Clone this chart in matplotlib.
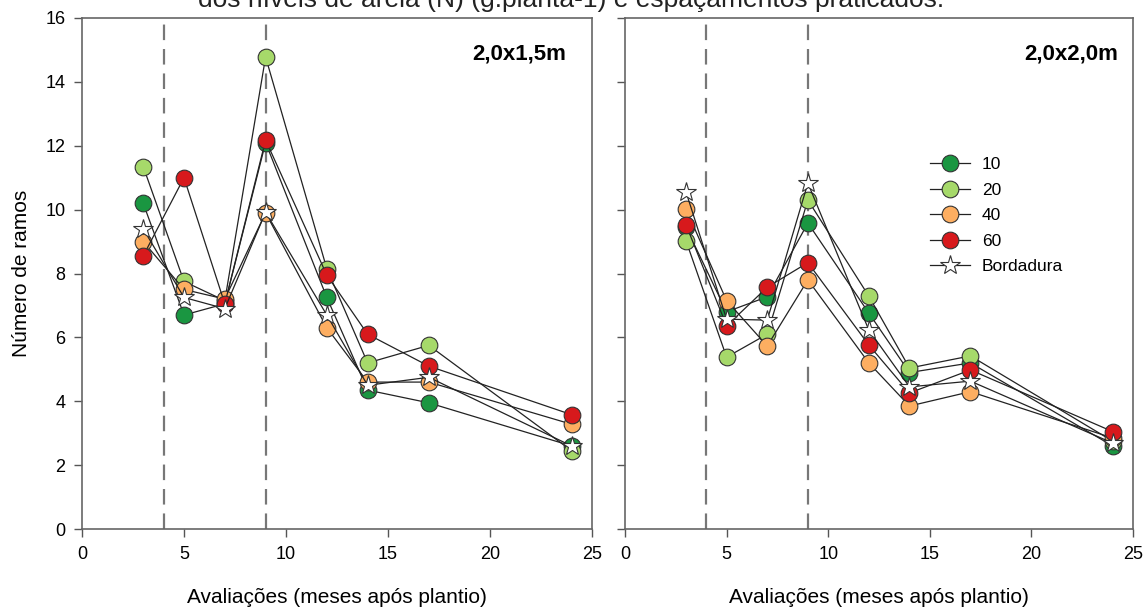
import numpy as np
import matplotlib
matplotlib.use('Agg')
from matplotlib import pyplot as plt

plt.rcParams['font.family'] = ['Liberation Sans', 'DejaVu Sans']

#~~ data
meses = [3, 5, 7, 9, 12, 14, 17, 24]
niveis = ['10', '20', '40', '60', 'Bordadura']

# espacamento 2,0x1,5m
esp15_10 = [10.2, 6.7, 7.05, 12.1, 7.25, 4.35, 3.95, 2.6]
esp15_20 = [11.35, 7.75, 7.15, 14.78, 8.15, 5.2, 5.75, 2.45]
esp15_40 = [9.0, 7.5, 7.2, 9.9, 6.3, 4.6, 4.6, 3.28]
esp15_60 = [8.55, 11.0, 7.05, 12.18, 7.95, 6.1, 5.1, 3.58]
esp15_bord = [9.4, 7.25, 6.9, 9.92, 6.7, 4.5, 4.75, 2.6]

# espacamento 2,0x2,0m
esp20_10 = [9.45, 6.8, 7.27, 9.58, 6.76, 4.9, 5.2, 2.6]
esp20_20 = [9.03, 5.38, 6.1, 10.3, 7.29, 5.04, 5.42, 2.75]
esp20_40 = [10.02, 7.15, 5.73, 7.8, 5.2, 3.85, 4.3, 2.85]
esp20_60 = [9.53, 6.36, 7.57, 8.34, 5.76, 4.26, 4.98, 3.05]
esp20_bord = [10.56, 6.57, 6.54, 10.83, 6.23, 4.45, 4.63, 2.69]

cores = ['#1a9641', '#a6d96a', '#fdae61', '#d7191c', 'white']
marcadores = ['o', 'o', 'o', 'o', '*']

paineis = [('2,0x1,5m', 566, [esp15_10, esp15_20, esp15_40, esp15_60, esp15_bord]),
           ('2,0x2,0m', 1118, [esp20_10, esp20_20, esp20_40, esp20_60, esp20_bord])]

fig = plt.figure(figsize=(11.47, 6.08), dpi=100)
W, H = 1147.0, 608.0
ax1 = fig.add_axes([82 / W, 1 - 529 / H, 510 / W, 511 / H])
ax2 = fig.add_axes([625 / W, 1 - 529 / H, 508 / W, 511 / H])

#~~ caption of the figure, cut off at the top like in the original
fig.text(571 / W, 1 - 7 / H, 'dos níveis de areia (N) (g.planta-1) e espaçamentos praticados.',
         ha='center', va='baseline', fontsize=19, color='#222222')

for ax, (rotulo, xr, series) in zip([ax1, ax2], paineis):
    for xv in [4, 9]:
        ax.axvline(xv, color='#777777', linestyle=(0, (7, 4)), linewidth=1.6, zorder=1)
    for serie, cor, mk, nome in zip(series, cores, marcadores, niveis):
        ms = 12 if mk == 'o' else 15
        ax.plot(meses, serie, color='#222222', linewidth=0.9, marker=mk, markersize=ms,
                markerfacecolor=cor, markeredgecolor='#333333', markeredgewidth=0.8,
                label=nome, zorder=3)
    ax.set_xlim(0, 25)
    ax.set_ylim(0, 16)
    ax.set_xticks(np.arange(0, 26, 5))
    ax.set_yticks(np.arange(0, 17, 2))
    ax.tick_params(direction='out', length=6, width=1, colors='#555555', labelsize=13,
                   labelcolor='black', pad=6)
    for s in ax.spines.values():
        s.set_color('#666666')
        s.set_linewidth(1.2)
    ax.set_xlabel('Avaliações (meses após plantio)', fontsize=15, labelpad=18)
    #~ panel label (espacamento)
    fig.text(xr / W, 1 - 54 / H, rotulo, ha='right', va='center', fontsize=16,
             fontweight='bold')

ax1.set_ylabel('Número de ramos', fontsize=15, labelpad=10)
ax2.set_yticklabels([])

leg = ax2.legend(loc='upper left', bbox_to_anchor=(0.6, 0.728), frameon=False,
                 fontsize=12.5, handlelength=2.3, labelspacing=0.6, borderaxespad=0,
                 borderpad=0, handletextpad=0.7)

plt.savefig('out.png', dpi=100)
plt.close()
